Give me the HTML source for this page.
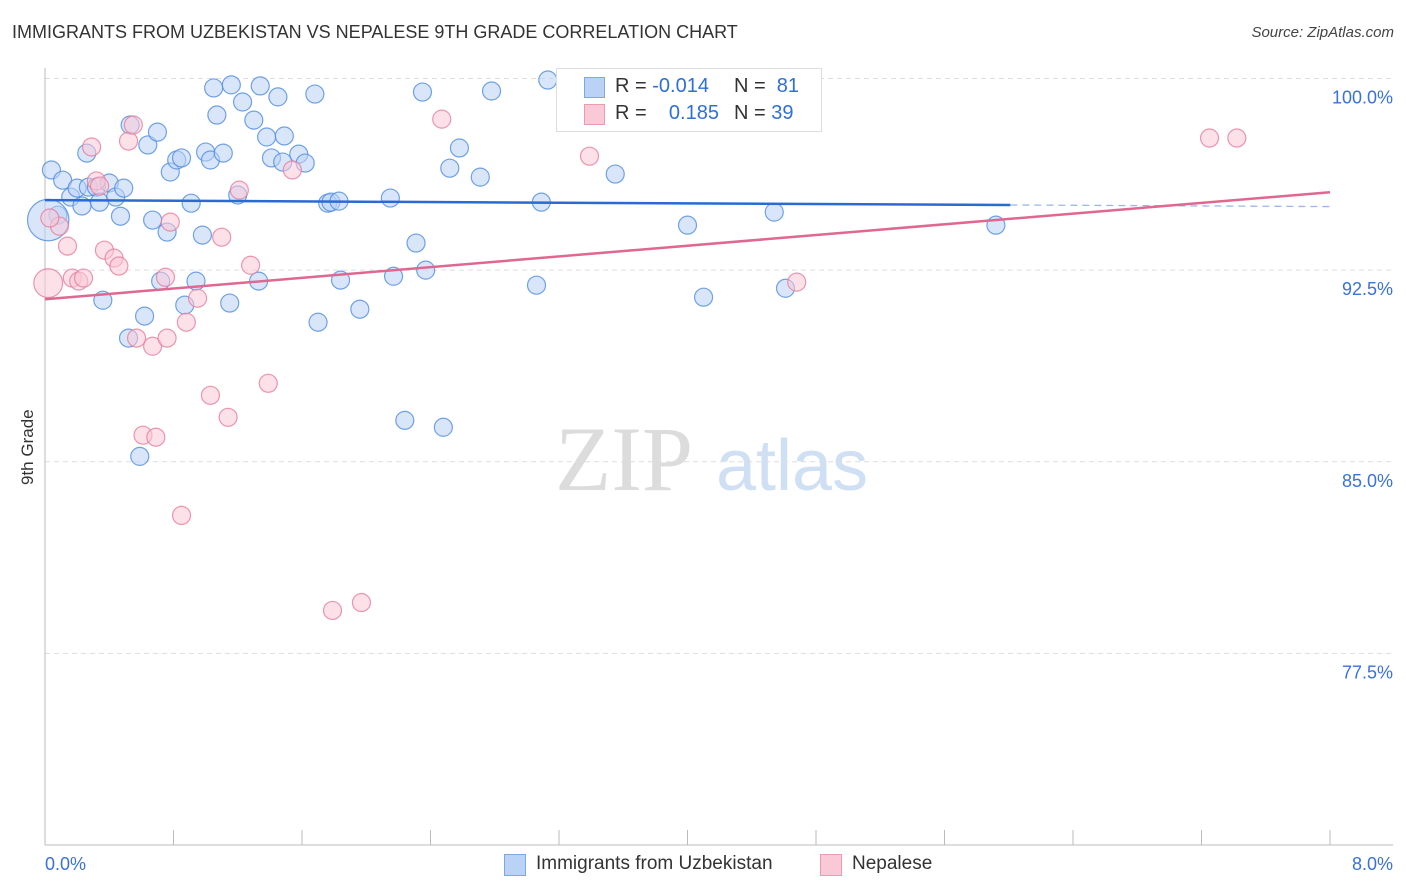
<!DOCTYPE html>
<html><head><meta charset="utf-8"><style>
body{margin:0;background:#fff;font-family:"Liberation Sans",sans-serif;}
#wrap{position:relative;width:1406px;height:892px;overflow:hidden;}
.t{position:absolute;white-space:nowrap;}
</style></head><body>
<div id="wrap">
<div class="t" style="left:12px;top:22px;font-size:18px;color:#333;">IMMIGRANTS FROM UZBEKISTAN VS NEPALESE 9TH GRADE CORRELATION CHART</div>
<div class="t" style="right:12px;top:24px;font-size:15px;color:#444;font-style:italic;">Source: ZipAtlas.com</div>
<div class="t" style="left:-2px;top:445px;font-size:17px;color:#333;transform:rotate(-90deg);transform-origin:center;width:60px;text-align:center;">9th Grade</div>
<svg id="plot" width="1406" height="892" style="position:absolute;left:0;top:0"></svg>
<div style="position:absolute;left:556px;top:68px;width:264px;height:62px;border:1px solid #ddd;background:#fff;font-size:20px;">
 <div style="position:absolute;left:27px;top:8px;width:19px;height:19px;background:#b9d2f5;border:1px solid #7ea7e6;"></div>
 <div class="t" style="left:58px;top:6px;color:#333;">R = <span style="color:#2f6fd6">-0.014</span></div>
 <div class="t" style="left:177px;top:6px;color:#333;">N = &nbsp;<span style="color:#2f6fd6">81</span></div>
 <div style="position:absolute;left:27px;top:35px;width:19px;height:19px;background:#f9c9d7;border:1px solid #ec9ab3;"></div>
 <div class="t" style="left:58px;top:33px;color:#333;">R = &nbsp;&nbsp;&nbsp;<span style="color:#2f6fd6">0.185</span></div>
 <div class="t" style="left:177px;top:33px;color:#333;">N = <span style="color:#2f6fd6">39</span></div>
</div>
<div style="position:absolute;left:504px;top:854px;width:20px;height:20px;background:#b9d2f5;border:1px solid #7ea7e6;"></div>
<div class="t" style="left:536px;top:853px;font-size:19px;color:#333;">Immigrants from Uzbekistan</div>
<div style="position:absolute;left:820px;top:854px;width:20px;height:20px;background:#f9c9d7;border:1px solid #ec9ab3;"></div>
<div class="t" style="left:852px;top:853px;font-size:19px;color:#333;">Nepalese</div>
</div>
<script>
const xTicks=[0,8];
const yTicks=[100,92.5,85,77.5];
const yTickLabels=["100.0%","92.5%","85.0%","77.5%"];
const blueX=[0.04,0.11,0.16,0.20,0.23,0.27,0.32,0.34,0.40,0.44,0.47,0.49,0.08,0.02,0.26,0.53,0.64,0.70,0.67,0.76,0.78,0.82,0.85,0.91,0.94,0.87,0.72,0.62,0.52,0.36,0.59,1.05,1.16,1.07,1.23,1.30,1.34,1.45,1.38,1.49,1.41,1.48,1.58,1.62,1.00,1.03,1.11,0.98,1.20,1.15,1.33,1.68,1.70,1.76,1.78,1.83,1.84,1.96,2.15,2.17,2.31,2.37,2.24,2.48,2.35,2.52,2.58,2.71,2.78,3.06,3.09,3.13,3.28,3.55,4.00,4.10,4.54,4.61,5.92,4.20];
const blueY=[96.42,96.02,95.36,95.71,95.01,95.75,95.75,95.16,95.91,95.36,94.61,95.71,94.65,94.46,97.08,98.18,97.40,97.90,94.46,93.99,96.34,96.81,96.89,95.12,92.07,91.13,92.07,90.70,89.84,91.32,85.21,99.63,99.75,98.57,99.08,98.37,99.71,99.28,97.71,97.75,96.89,96.73,97.04,96.69,97.12,96.81,97.08,93.87,95.44,91.21,92.07,99.39,90.46,95.12,95.16,95.20,92.11,90.97,95.32,92.26,93.56,92.50,86.62,86.35,99.47,96.49,97.28,96.14,99.51,91.91,95.16,99.94,99.98,96.26,94.26,91.44,94.77,91.79,94.26,99.98];
const blueSize=[1,1,1,1,1,1,1,1,1,1,1,1,1,2.3];
const pinkX=[0.02,0.09,0.14,0.17,0.21,0.24,0.29,0.32,0.37,0.43,0.46,0.52,0.55,0.57,0.61,0.67,0.69,0.76,0.78,0.75,0.85,0.88,0.95,1.03,1.10,1.14,1.21,1.28,1.39,1.54,1.79,1.97,2.47,3.39,4.68,7.42,7.25,0.34,0.03];
const pinkY=[91.99,94.22,93.44,92.19,92.07,92.19,97.32,95.99,93.28,92.97,92.66,97.55,98.18,89.84,86.04,89.52,85.96,89.84,94.38,92.22,82.90,90.46,91.40,87.60,93.79,86.74,95.63,92.69,88.07,96.42,79.18,79.49,98.41,96.96,92.03,97.67,97.67,95.79,94.54];
const pinkSize=[1.6];
const blueTrend=[95.24,95.05];
const blueTrendX=[0,6.01];
const pinkTrend=[91.36,95.55];
const L=45,R=1330,T=78.5,B=845;
const sx=v=>L+(v-0)/8*(R-L);
const sy=v=>T+(100-v)/30*(B-T);
const svg=document.getElementById('plot');
const NS='http://www.w3.org/2000/svg';
function mk(tag,attrs){const e=document.createElementNS(NS,tag);for(const k in attrs)e.setAttribute(k,attrs[k]);svg.appendChild(e);return e;}
// watermark
let w=mk('text',{x:555,y:490,'font-size':92,'font-family':'Liberation Serif,serif',fill:'#dcdcdc'});w.textContent='ZIP';


w=mk('text',{x:716,y:490,'font-size':72,'font-family':'Liberation Sans,sans-serif',fill:'#cfe0f5'});w.textContent='atlas';


yTicks.forEach((v,i)=>{
 const g=mk('line',{x1:L,x2:1393,y1:sy(v),y2:sy(v),stroke:'#ddd','stroke-dasharray':'5,4'});
 
 
 const t=mk('text',{x:1393,y:sy(v)+25,'text-anchor':'end','font-size':18,fill:'#3a72d8','font-family':'Liberation Sans,sans-serif'});
 t.textContent=yTickLabels[i];
 
 
});
let a=mk('line',{x1:L,x2:L,y1:68,y2:B,stroke:'#bbb'});


a=mk('line',{x1:L,x2:1393,y1:B,y2:B,stroke:'#bbb'});


for(let i=0;i<=10;i++){const v=i*0.8;const tk=mk('line',{x1:sx(v),x2:sx(v),y1:830,y2:B,stroke:'#bbb'});
 
 }
xTicks.forEach(v=>{const t=mk('text',{x:v===0?sx(v):1393,y:870,'text-anchor':v===0?'start':'end','font-size':18,fill:'#3a72d8','font-family':'Liberation Sans,sans-serif'});
 t.textContent=v.toFixed(1)+'%';
 
 });
function pts(X,Y,S,fill,stroke,name){X.forEach((x,i)=>{const c=mk('circle',{cx:sx(x),cy:sy(Y[i]),r:9*(S[i]||1),fill:fill,'fill-opacity':0.55,stroke:stroke,'stroke-width':1.2,'stroke-opacity':0.8});
 
 });}
pts(blueX,blueY,blueSize,'#b9d2f5','#4f8ce0','point-uzbekistan');
pts(pinkX,pinkY,pinkSize,'#f9c9d7','#e67d9c','point-nepalese');
let tl=mk('line',{x1:sx(blueTrendX[0]),y1:sy(blueTrend[0]),x2:sx(blueTrendX[1]),y2:sy(blueTrend[1]),stroke:'#2a6ad4','stroke-width':2.5});


const slope=(blueTrend[1]-blueTrend[0])/(blueTrendX[1]-blueTrendX[0]);
tl=mk('line',{x1:sx(blueTrendX[1]),y1:sy(blueTrend[1]),x2:sx(8),y2:sy(blueTrend[0]+slope*8),stroke:'#9bb8e6','stroke-width':1.3,'stroke-dasharray':'7,5'});


tl=mk('line',{x1:sx(0),y1:sy(pinkTrend[0]),x2:sx(8),y2:sy(pinkTrend[1]),stroke:'#e0678f','stroke-width':2.5});


</script>
</body></html>
